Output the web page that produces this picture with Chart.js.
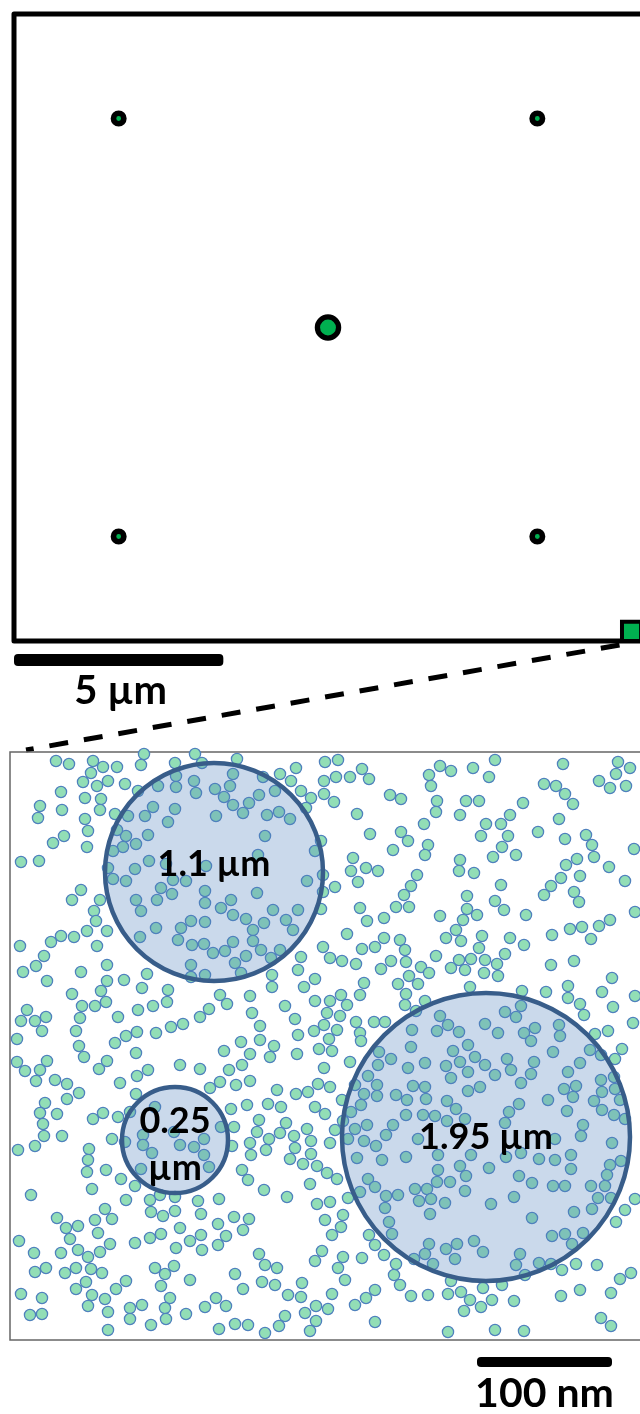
<!DOCTYPE html>
<html lang="en">
<head>
<meta charset="UTF-8">
<title>Zoom panel</title>
<script src="https://cdn.jsdelivr.net/npm/chart.js"></script>
<style>
  html, body { margin: 0; padding: 0; background: #fff; overflow: hidden; width: 640px; height: 1414px; }
  canvas { position: absolute; left: 0; }
  #top { top: 0; }
  #bottom { top: 740px; }
</style>
</head>
<body>
<canvas id="top" width="660" height="760"></canvas>
<canvas id="bottom" width="660" height="674"></canvas>
<script>
// ---- top panel (units: µm) ----
const boxSize = 15;
const siteX = [2.5, 12.5, 7.5, 2.5, 12.5];
const siteY = [12.5, 12.5, 7.5, 2.5, 2.5];
const siteBig = [false, false, true, false, false];
const zoomX = [14.75];
const zoomY = [0.23];
const barUm = 5;

// ---- bottom panel (figure units, 1.35 per nm) ----
const unitsPerNm = 1.35;
const barNm = 100;
const circleX = [214, 175, 486];
const circleY = [872, 1140, 1137];
const circleR = [109, 53, 144];
const circleLabel = [['1.1 µm'], ['0.25', 'µm'], ['1.95 µm']];

const dots = [
[56,761],[69,764],[93,761],[103,767],[117,767],[91,773],[83,782],[97,786],[108,781],[125,784],[141,765],[144,754],[138,791],[175,763],[195,754],[202,763],[61,792],[85,798],[101,799],[40,806],[62,810],[38,818],[100,810],[85,819],[88,831],[115,814],[64,836],[53,843],[87,847],[21,862],[39,861],
[176,776],[176,787],[194,781],[196,793],[215,789],[158,786],[153,807],[145,816],[175,809],[168,822],[128,816],[148,835],[126,836],[136,844],[123,847],[113,851],[117,830],[108,868],[113,879],[135,869],[126,881],[149,861],[166,864],[173,880],[186,881],[161,888],[157,900],[172,894],[136,900],[141,911],[205,891],[205,903],[206,866],[181,928],[191,921],[205,922],[156,928],[178,940],[192,945],[204,944],[213,953],[140,937],[191,965],[205,975],[191,977],[216,816],
[81,890],[72,900],[100,900],[94,911],[96,921],[87,931],[107,931],[61,936],[74,937],[51,942],[20,946],[97,946],[44,956],[36,966],[23,972],[107,965],[81,972],[47,981],[107,981],[101,991],[124,980],[147,974],[142,988],[168,990],[167,1002],[72,994],[82,1006],[95,1006],[106,1002],[80,1018],[27,1010],[21,1021],[35,1021],[46,1017],[42,1031],[76,1031],[118,1017],[138,1010],[153,1006],[126,1036],[137,1032],[156,1033],[171,1027],[183,1024],[200,1017],[209,1009],[220,995],[17,1039],[115,1043],
[237,759],[233,774],[230,786],[224,797],[233,805],[243,813],[249,803],[259,795],[263,777],[275,791],[267,815],[279,812],[290,819],[265,836],[315,851],[258,855],[307,881],[257,893],[231,900],[221,908],[233,915],[246,919],[253,930],[264,923],[273,910],[286,920],[293,930],[298,910],[233,942],[253,941],[261,950],[246,956],[235,963],[225,951],[271,958],[280,950],[241,973],
[325,762],[338,760],[296,768],[280,774],[291,781],[324,781],[336,777],[350,777],[362,769],[369,779],[301,791],[311,798],[324,794],[334,802],[306,808],[390,795],[401,799],[357,814],[370,834],[321,841],[401,832],[408,841],[393,850],[424,824],[429,775],[428,845],[425,855],[353,858],[351,871],[366,868],[378,871],[358,882],[417,875],[411,886],[404,895],[323,875],[335,887],[323,892],[321,909],[360,908],[367,921],[384,918],[396,907],[409,907],[347,934],[323,947],[330,958],[342,961],[356,964],[362,949],[375,947],[384,938],[400,940],[405,950],[406,962],[391,961],[381,969],[421,967],[429,973],[409,976],[398,984],[418,984],[406,994],[405,1005],[301,957],[298,970],[315,979],[304,987],[272,975],[272,987],[364,983],[360,995],[341,995],[347,1005],[330,1001],[327,1013],[340,1016],[324,1025],[337,1030],[315,1001],[295,1019],[314,1031],[298,1035],[285,1006],[260,1026],[252,1013],[250,996],[227,1004],[356,1022],[360,1033],[374,1022],[385,1022],[416,1011],[425,1001],[412,1030],[260,1040],[241,1042],[329,1039],[361,1041],
[495,760],[440,766],[451,771],[473,768],[489,777],[431,786],[563,764],[618,762],[630,768],[616,774],[599,781],[610,788],[626,786],[544,784],[556,786],[565,794],[573,804],[437,801],[436,812],[466,801],[479,801],[460,815],[523,803],[510,815],[501,824],[486,824],[559,819],[481,836],[508,836],[502,847],[493,857],[516,855],[538,832],[565,839],[586,835],[592,845],[594,857],[577,859],[566,865],[609,867],[634,849],[460,860],[459,871],[474,873],[561,878],[580,876],[551,886],[544,895],[574,892],[579,902],[625,881],[501,885],[467,896],[495,901],[504,910],[467,909],[463,920],[477,915],[440,916],[526,915],[635,912],[456,930],[446,938],[461,941],[482,936],[479,948],[510,938],[524,945],[552,935],[570,929],[582,927],[599,926],[610,920],[591,939],[436,956],[459,960],[471,959],[485,960],[505,954],[497,964],[451,968],[465,970],[484,973],[498,976],[551,965],[574,961],[612,978],[568,986],[602,992],[635,996],[546,992],[522,991],[470,987],[568,998],[580,1004],[584,1015],[613,1007],[633,1023],[608,1031],[595,1034],
[521,1006],[516,1017],[505,1012],[440,1016],[448,1025],[437,1031],[459,1032],[485,1024],[498,1033],[524,1033],[535,1028],[559,1025],[560,1036],[531,1041],[468,1045],
[79,1046],[84,1057],[136,1053],[17,1062],[25,1071],[40,1070],[47,1061],[36,1081],[55,1080],[67,1084],[79,1093],[67,1099],[99,1069],[107,1061],[120,1083],[137,1076],[148,1070],[136,1094],[180,1065],[200,1069],[210,1088],[220,1082],[45,1103],[40,1113],[57,1114],[43,1124],[44,1136],[35,1146],[18,1150],[62,1136],[93,1119],[103,1113],[118,1117],[112,1139],[89,1149],[88,1160],[87,1172],[106,1170],[92,1189],[31,1195],[121,1179],[135,1186],[126,1200],
[143,1135],[143,1145],[152,1153],[141,1169],[180,1145],[194,1147],[204,1139],[204,1155],[209,1167],[174,1132],[155,1107],[130,1112],[125,1142],
[150,1200],[160,1195],[175,1197],[151,1212],[163,1216],[175,1211],[198,1201],[201,1214],[219,1199],[218,1224],[57,1218],[66,1228],[78,1226],[70,1239],[105,1209],[112,1219],[95,1220],[98,1233],[19,1241],[34,1253],[61,1253],[78,1250],[88,1257],[100,1252],[110,1244],[135,1243],[150,1238],[161,1234],[180,1228],[176,1248],[190,1241],[201,1235],[202,1250],[218,1245],[35,1272],[46,1268],[65,1273],[76,1268],[91,1269],[102,1273],[86,1282],[76,1289],[92,1295],[88,1306],[105,1299],[108,1312],[116,1289],[126,1281],[155,1268],[165,1274],[174,1266],[161,1286],[190,1280],[170,1298],[165,1308],[166,1319],[130,1308],[142,1305],[130,1319],[151,1325],[186,1314],[205,1307],[216,1298],[21,1294],[42,1298],[30,1315],[42,1314],[108,1330],[219,1329],
[224,1051],[250,1054],[270,1057],[274,1046],[297,1054],[319,1049],[332,1051],[242,1065],[229,1070],[236,1085],[250,1081],[277,1090],[296,1094],[308,1092],[318,1084],[330,1087],[324,1068],[350,1062],[268,1104],[281,1107],[247,1105],[231,1109],[234,1127],[259,1120],[257,1132],[269,1139],[280,1133],[286,1123],[266,1150],[250,1143],[251,1155],[232,1146],[221,1127],[315,1107],[325,1114],[342,1100],[294,1136],[295,1148],[307,1129],[311,1141],[311,1154],[290,1159],[303,1164],[317,1166],[330,1143],[335,1130],[343,1121],[327,1173],[337,1179],[242,1170],[248,1180],[264,1190],[287,1197],[310,1184],[317,1204],[330,1202],[348,1198],[234,1217],[249,1219],[243,1230],[226,1236],[325,1220],[343,1215],[341,1227],[332,1235],[369,1235],[259,1254],[265,1265],[277,1268],[322,1251],[315,1261],[343,1257],[338,1268],[362,1258],[345,1280],[235,1274],[243,1289],[262,1282],[275,1285],[302,1283],[301,1297],[288,1295],[332,1294],[226,1306],[285,1316],[305,1313],[316,1306],[328,1309],[316,1321],[279,1326],[265,1333],[310,1331],[248,1325],[235,1324],[375,1322],[355,1305],[366,1298],[375,1290],[411,1296],[428,1295],[394,1275],[400,1285],[396,1264],[375,1245],[384,1255],
[379,1052],[391,1059],[411,1047],[425,1063],[378,1065],[408,1068],[368,1076],[377,1085],[355,1085],[364,1094],[377,1096],[396,1095],[413,1086],[425,1087],[407,1100],[426,1099],[361,1105],[351,1112],[406,1115],[423,1115],[393,1125],[386,1135],[367,1125],[355,1129],[348,1139],[364,1141],[376,1146],[418,1139],[357,1158],[382,1160],[406,1157],[368,1179],[375,1187],[360,1192],[386,1196],[398,1195],[415,1189],[427,1189],[419,1201],[385,1208],[389,1222],[392,1234],[430,1214],[429,1244],[425,1254],[414,1259],
[453,1051],[475,1057],[485,1065],[446,1066],[451,1078],[460,1062],[468,1072],[507,1059],[511,1070],[495,1075],[521,1083],[531,1074],[534,1062],[553,1052],[590,1050],[601,1055],[615,1059],[622,1049],[580,1063],[568,1072],[564,1089],[576,1086],[573,1097],[601,1080],[602,1092],[614,1077],[615,1089],[620,1100],[594,1101],[602,1110],[614,1115],[625,1119],[567,1111],[548,1100],[468,1091],[480,1087],[447,1101],[456,1109],[435,1116],[447,1121],[465,1119],[509,1112],[519,1104],[505,1123],[583,1125],[581,1136],[555,1139],[612,1143],[438,1155],[471,1155],[460,1166],[438,1170],[437,1182],[450,1182],[466,1176],[465,1191],[506,1157],[521,1153],[539,1159],[555,1160],[571,1155],[571,1169],[610,1165],[621,1161],[489,1168],[519,1176],[532,1183],[553,1186],[565,1186],[591,1186],[605,1186],[607,1175],[611,1198],[598,1198],[592,1209],[574,1212],[514,1197],[491,1204],[532,1218],[431,1199],[445,1203],[635,1199],[625,1210],[616,1222],[552,1236],[565,1234],[572,1244],[583,1233],[474,1241],[483,1252],[457,1244],[446,1249],[455,1259],[433,1264],[520,1254],[516,1265],[525,1275],[539,1263],[551,1264],[562,1270],[576,1264],[597,1265],[620,1279],[631,1273],[561,1296],[580,1290],[611,1293],[601,1318],[611,1326],[451,1281],[448,1294],[461,1292],[483,1288],[502,1285],[470,1300],[464,1311],[481,1307],[492,1300],[514,1301],[448,1332],[495,1330],[524,1331]
];

const green = '#00b050';
const font = 'Lato, "Open Sans", sans-serif';

// frame, scale bar and the dashed connector of the top panel
const topDeco = {
  id: 'topDeco',
  beforeDatasetsDraw(chart) {
    const { ctx, chartArea: a } = chart;
    ctx.save();
    ctx.lineWidth = 5;
    ctx.strokeStyle = '#000';
    ctx.lineJoin = 'round';
    ctx.strokeRect(a.left, a.top, a.right - a.left + 4, a.bottom - a.top);
    ctx.restore();
  },
  afterDatasetsDraw(chart) {
    const { ctx, scales: { x, y } } = chart;
    ctx.save();
    const x0 = x.getPixelForValue(0), x1 = x.getPixelForValue(barUm);
    ctx.fillStyle = '#000';
    ctx.beginPath();
    ctx.roundRect(x0, 654, x1 - x0, 12, 4);
    ctx.fill();
    ctx.font = 'bold 40px ' + font;
    ctx.textAlign = 'center';
    ctx.fillText(barUm + ' µm', (x0 + x1) / 2 + 2, 704);
    // dashed line from the zoom square to the lower panel
    ctx.setLineDash([19, 16]);
    ctx.lineWidth = 5;
    ctx.strokeStyle = '#000';
    ctx.beginPath();
    ctx.moveTo(x.getPixelForValue(zoomX[0]) - 12, y.getPixelForValue(0) + 4);
    ctx.lineTo(26, 750);
    ctx.stroke();
    ctx.restore();
  }
};

// frame, labels and scale bar of the bottom panel
const labelBase = [4, -7, 12];
const bottomDeco = {
  id: 'bottomDeco',
  beforeDatasetsDraw(chart) {
    const { ctx, chartArea: a } = chart;
    ctx.save();
    ctx.lineWidth = 1.5;
    ctx.strokeStyle = '#666';
    ctx.strokeRect(a.left, a.top, a.right - a.left + 4, a.bottom - a.top);
    ctx.restore();
  },
  afterDatasetsDraw(chart) {
    const { ctx, scales: { x, y } } = chart;
    ctx.save();
    ctx.fillStyle = '#000';
    ctx.textAlign = 'center';
    ctx.font = 'bold 36px ' + font;
    circleLabel.forEach((lines, i) => {
      const px = x.getPixelForValue(circleX[i]);
      const py = y.getPixelForValue(circleY[i]) + labelBase[i];
      lines.forEach((t, k) => ctx.fillText(t, px, py + k * 47));
    });
    // 100 nm bar
    const xr = x.getPixelForValue(612), xl = x.getPixelForValue(612 - barNm * unitsPerNm);
    ctx.beginPath();
    ctx.roundRect(xl, 617, xr - xl, 10, 4);
    ctx.fill();
    ctx.font = 'bold 41px ' + font;
    ctx.fillText(barNm + ' nm', (xl + xr) / 2, 667);
    ctx.restore();
  }
};

function draw() {
  new Chart(document.getElementById('top'), {
    type: 'scatter',
    data: {
      datasets: [
        {
          data: zoomX.map((v, i) => ({ x: v, y: zoomY[i] })),
          pointStyle: 'rect', pointRadius: 13.5,
          backgroundColor: green, borderColor: '#000', borderWidth: 4
        },
        {
          data: siteX.map((v, i) => ({ x: v, y: siteY[i] })),
          pointRadius: siteBig.map(b => b ? 10.6 : 5.2),
          borderWidth: siteBig.map(b => b ? 5.3 : 5.6),
          backgroundColor: green, borderColor: '#000'
        }
      ]
    },
    options: {
      responsive: false, animation: false, devicePixelRatio: 1, events: [],
      clip: false,
      layout: { autoPadding: false, padding: { left: 14, top: 14, right: 18, bottom: 119 } },
      scales: {
        x: { display: false, min: 0, max: boxSize },
        y: { display: false, min: 0, max: boxSize }
      },
      plugins: { legend: { display: false }, tooltip: { enabled: false } }
    },
    plugins: [topDeco]
  });

  new Chart(document.getElementById('bottom'), {
    type: 'scatter',
    data: {
      datasets: [
        {
          label: 'zones',
          data: circleX.map((v, i) => ({ x: v, y: circleY[i] })),
          pointRadius: c => {
            const s = c.chart.scales.x;
            const i = c.dataIndex;
            return Math.abs(s.getPixelForValue(circleX[i] + circleR[i]) - s.getPixelForValue(circleX[i]));
          },
          backgroundColor: 'rgba(79,129,189,0.3)', borderColor: '#385d8a', borderWidth: 4.5
        },
        {
          label: 'particles',
          data: dots.map(d => ({ x: d[0], y: d[1] })),
          pointRadius: 5.6,
          backgroundColor: '#92deb6', borderColor: '#4f81bd', borderWidth: 1.3
        }
      ]
    },
    options: {
      responsive: false, animation: false, devicePixelRatio: 1, events: [],
      clip: false,
      layout: { autoPadding: false, padding: { left: 10, top: 12, right: 18, bottom: 74 } },
      scales: {
        x: { display: false, min: 10, max: 642 },
        y: { display: false, min: 752, max: 1340, reverse: true }
      },
      plugins: { legend: { display: false }, tooltip: { enabled: false } }
    },
    plugins: [bottomDeco]
  });
}

document.fonts.load('bold 34px Lato').then(draw, draw);
</script>
</body>
</html>
